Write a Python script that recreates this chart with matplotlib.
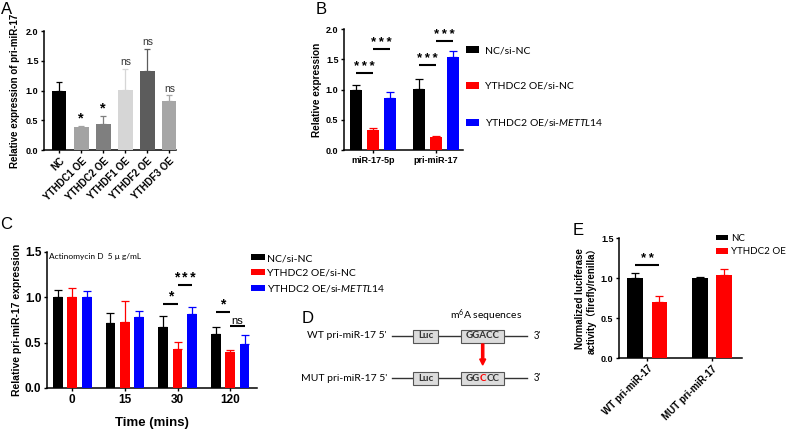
import matplotlib
matplotlib.use('Agg')
import matplotlib.pyplot as plt
import numpy as np
from matplotlib.patches import Rectangle, FancyArrow
from matplotlib.offsetbox import TextArea, HPacker, AnnotationBbox

plt.rcParams['font.family'] = ['Liberation Sans', 'Noto Sans CJK SC']
plt.rcParams['mathtext.fontset'] = 'custom'
plt.rcParams['mathtext.rm'] = 'Lato'
plt.rcParams['mathtext.it'] = 'Lato:italic'
plt.rcParams['axes.linewidth'] = 1.1
plt.rcParams['xtick.major.width'] = 1.0
plt.rcParams['ytick.major.width'] = 1.0
plt.rcParams['xtick.major.size'] = 2.5
plt.rcParams['ytick.major.size'] = 2.5
plt.rcParams['xtick.major.pad'] = 1.5
plt.rcParams['ytick.major.pad'] = 1.5

# ---- panel A
a_labels = ['NC', 'YTHDC1 OE', 'YTHDC2 OE', 'YTHDF1 OE', 'YTHDF2 OE', 'YTHDF3 OE']
a_vals = [1.00, 0.38, 0.44, 1.01, 1.33, 0.83]
a_err = [0.14, 0.02, 0.13, 0.36, 0.37, 0.09]
a_sig = ['', '*', '*', 'ns', 'ns', 'ns']
a_colors = ['#000000', '#a3a3a3', '#7f7f7f', '#d6d6d6', '#5c5c5c', '#a6a6a6']

# ---- panel B
b_groups = ['miR-17-5p', 'pri-miR-17']
b_series = ['NC/si-NC', 'YTHDC2 OE/si-NC', 'YTHDC2 OE/si-$\\it{METTL14}$']
b_nc = [1.00, 1.01]
b_nc_err = [0.07, 0.17]
b_oe = [0.33, 0.22]
b_oe_err = [0.03, 0.02]
b_si = [0.86, 1.54]
b_si_err = [0.10, 0.10]
# (group, from series, to series, height, label)
b_sig = [(0, 0, 1, 1.28, '***'), (0, 1, 2, 1.67, '***'),
         (1, 0, 1, 1.41, '***'), (1, 1, 2, 1.81, '***')]

# ---- panel C
c_times = ['0', '15', '30', '120']
c_nc = [1.00, 0.72, 0.67, 0.60]
c_nc_err = [0.08, 0.11, 0.12, 0.07]
c_oe = [1.00, 0.73, 0.43, 0.40]
c_oe_err = [0.10, 0.23, 0.08, 0.02]
c_si = [1.00, 0.78, 0.82, 0.48]
c_si_err = [0.07, 0.07, 0.07, 0.11]
c_sig = [(2, 0, 1, 0.93, '*'), (2, 1, 2, 1.14, '***'),
         (3, 0, 1, 0.84, '*'), (3, 1, 2, 0.68, 'ns')]

# ---- panel D (schematic)
d_rows = ["WT pri-miR-17 5'", "MUT pri-miR-17 5'"]
d_seq_wt = 'GGACC'
d_seq_mut = ('GG', 'C', 'CC')

# ---- panel E
e_groups = ['WT pri-miR-17', 'MUT pri-miR-17']
e_series = ['NC', 'YTHDC2 OE']
e_nc = [1.00, 1.00]
e_nc_err = [0.06, 0.02]
e_oe = [0.70, 1.04]
e_oe_err = [0.08, 0.07]
e_sig = [(0, 0, 1, 1.17, '**')]

W, H = 788, 430
fig = plt.figure(figsize=(W / 100, H / 100), dpi=100)


def px_axes(l, t, r, b):
    return fig.add_axes([l / W, 1 - b / H, (r - l) / W, (b - t) / H])


def prism(ax, fs):
    for s in ['top', 'right']:
        ax.spines[s].set_visible(False)
    ax.tick_params(labelsize=fs)
    for lab in ax.get_yticklabels() + ax.get_xticklabels():
        lab.set_fontweight('bold')


def bars(ax, x, vals, errs, colors, width, cap):
    bc = ax.bar(x, vals, width, color=colors, zorder=3)
    for xi, v, e, c in zip(x, vals, errs, colors):
        ax.errorbar(xi, v, yerr=[[0], [e]], fmt='none', ecolor=c,
                    elinewidth=0.9, capsize=cap, capthick=0.9, zorder=2)
    return bc


def sig_lines(ax, sigs, offsets, fs, star_fs):
    for g, i0, i1, h, lab in sigs:
        ax.plot([g + offsets[i0], g + offsets[i1]], [h, h], color='black', lw=1.5,
                solid_capstyle='butt', zorder=4)
        xm = g + (offsets[i0] + offsets[i1]) / 2
        if lab == 'ns':
            ax.text(xm, h, lab, ha='center', va='bottom', fontsize=fs)
        else:
            ax.text(xm, h, '\u2009'.join(lab), ha='center', va='bottom',
                    fontsize=star_fs, fontweight='bold')


# ================= A
axA = px_axes(44, 31.3, 176, 150)
xa = np.arange(len(a_labels))
bars(axA, xa, a_vals, a_err, a_colors, 0.66, 2.4)
for xi, v, e, s, c in zip(xa, a_vals, a_err, a_sig, a_colors):
    if s == '*':
        axA.text(xi, v + e + 0.02, s, ha='center', va='bottom', fontsize=10.5, fontweight='bold')
    elif s:
        axA.text(xi, v + e + 0.03, s, ha='center', va='bottom', fontsize=7.5, color='#333333')
axA.set_xlim(-0.69, 5.3)
axA.set_ylim(0, 2.0)
axA.set_yticks(np.arange(0, 2.01, 0.5))
axA.set_yticklabels(['%.1f' % v for v in np.arange(0, 2.01, 0.5)])
axA.set_xticks(xa)
axA.set_xticklabels(a_labels, rotation=45, ha='right', rotation_mode='anchor')
prism(axA, 6.5)
for lab in axA.get_xticklabels():
    lab.set_fontsize(7)
axA.set_ylabel('Relative expression of pri-miR-17', fontsize=7, fontweight='bold', labelpad=4)

# ================= B
axB = px_axes(344, 29.3, 463, 150)
xb = np.arange(len(b_groups))
offB = [-0.27, 0, 0.27]
hb = []
for k, (v, e, c) in enumerate([(b_nc, b_nc_err, 'black'), (b_oe, b_oe_err, '#ff0000'),
                                (b_si, b_si_err, '#0000ff')]):
    hb.append(bars(axB, xb + offB[k], v, e, [c] * len(v), 0.18, 3.2))
sig_lines(axB, b_sig, offB, 7.5, 9.5)
axB.set_xlim(-0.46, 1.43)
axB.set_ylim(0, 2.0)
axB.set_yticks(np.arange(0, 2.01, 0.5))
axB.set_yticklabels(['%.1f' % v for v in np.arange(0, 2.01, 0.5)])
axB.set_xticks(xb)
axB.set_xticklabels(b_groups)
prism(axB, 6.5)
axB.set_ylabel('Relative expression', fontsize=7.2, fontweight='bold', labelpad=3)
fig.legend(hb, b_series, loc='upper left', bbox_to_anchor=(466 / W, 1 - 46 / H),
           frameon=False, prop={'family': 'Lato', 'size': 7.5}, borderpad=0,
           borderaxespad=0, handlelength=1.2, handleheight=0.65, handletextpad=0.6,
           labelspacing=2.55)

# ================= C
axC = px_axes(47, 252, 257, 388)
xc = np.arange(len(c_times))
offC = [-0.274, 0, 0.274]
hc = []
for k, (v, e, c) in enumerate([(c_nc, c_nc_err, 'black'), (c_oe, c_oe_err, '#ff0000'),
                                (c_si, c_si_err, '#0000ff')]):
    hc.append(bars(axC, xc + offC[k], v, e, [c] * len(v), 0.185, 2.6))
sig_lines(axC, c_sig, offC, 8, 10)
axC.set_xlim(-0.48, 3.51)
axC.set_ylim(0, 1.5)
axC.set_yticks([0, 0.5, 1.0, 1.5])
axC.set_yticklabels(['0.0', '0.5', '1.0', '1.5'])
axC.set_xticks(xc)
axC.set_xticklabels(c_times)
prism(axC, 8.5)
axC.set_xlabel('Time (mins)', fontsize=9.5, fontweight='bold', labelpad=8)
axC.set_ylabel('Relative pri-miR-17 expression', fontsize=7.5, fontweight='bold', labelpad=2)
axC.text(0.01, 0.97, 'Actinomycin D  5 \u03bc g/mL', transform=axC.transAxes,
         fontsize=6, family='Lato', va='center', ha='left')
fig.legend(hc, b_series, loc='upper left', bbox_to_anchor=(251 / W, 1 - 254 / H),
           frameon=False, prop={'family': 'Lato', 'size': 7.5}, borderpad=0,
           borderaxespad=0, handlelength=1.3, handleheight=0.55, handletextpad=0.2,
           labelspacing=0.55)

# ================= D
axD = px_axes(300, 300, 560, 400)
axD.set_xlim(300, 560)
axD.set_ylim(400, 300)
axD.axis('off')
row_y = [336, 378.3]
for y, lab in zip(row_y, d_rows):
    axD.text(387, y, lab, ha='right', va='center', fontsize=7.5, family='Lato')
    axD.plot([392, 527], [y, y], color='#333333', lw=1.0, zorder=1)
    axD.add_patch(Rectangle((413, y - 6.5), 25, 13, facecolor='#dcdcdc',
                            edgecolor='#555555', lw=0.8, zorder=2))
    axD.text(425.5, y, 'Luc', ha='center', va='center', fontsize=7, family='Lato',
             fontweight='bold', color='#333333', zorder=3)
    axD.add_patch(Rectangle((461, y - 6.5), 43, 13, facecolor='#dcdcdc',
                            edgecolor='#555555', lw=0.8, zorder=2))
    axD.text(534, y, "3'", ha='left', va='center', fontsize=7, family='Liberation Sans')
axD.text(482.5, row_y[0], d_seq_wt, ha='center', va='center', fontsize=7,
         family='Lato', fontweight='bold', color='#333333', zorder=3)
parts = [TextArea(p, textprops=dict(fontsize=7, family='Lato', fontweight='bold',
                                     color=('#ff0000' if i == 1 else '#333333')))
         for i, p in enumerate(d_seq_mut)]
pack = HPacker(children=parts, align='center', pad=0, sep=0)
axD.add_artist(AnnotationBbox(pack, (482.5, row_y[1]), frameon=False, pad=0,
                              box_alignment=(0.5, 0.5), zorder=3))
axD.text(486.5, 316, 'm$^6$A sequences', ha='center', va='center', fontsize=7.5,
         family='Lato')
axD.add_patch(FancyArrow(482.7, 344, 0, 21, width=2.2, head_width=6, head_length=6,
                         length_includes_head=True, color='#ff0000', zorder=3))

# ================= E
axE = px_axes(619, 238.3, 742, 358)
xe = np.arange(len(e_groups))
offE = [-0.187, 0.187]
he = []
for k, (v, e, c) in enumerate([(e_nc, e_nc_err, 'black'), (e_oe, e_oe_err, '#ff0000')]):
    he.append(bars(axE, xe + offE[k], v, e, [c] * len(v), 0.244, 3.2))
sig_lines(axE, e_sig, offE, 7.5, 9.5)
axE.set_xlim(-0.44, 1.47)
axE.set_ylim(0, 1.5)
axE.set_yticks([0, 0.5, 1.0, 1.5])
axE.set_yticklabels(['0.0', '0.5', '1.0', '1.5'])
axE.set_xticks(xe)
axE.set_xticklabels(e_groups, rotation=45, ha='right', rotation_mode='anchor')
prism(axE, 6.5)
for lab in axE.get_xticklabels():
    lab.set_fontsize(7)
axE.set_ylabel('Normalized luciferase\nactivity\uff08firefly/renilla\uff09', fontsize=7,
               fontweight='bold', labelpad=3, linespacing=1.1)
fig.legend(he, e_series, loc='upper left', bbox_to_anchor=(716 / W, 1 - 234 / H),
           frameon=False, prop={'family': 'Lato', 'size': 7}, borderpad=0,
           borderaxespad=0, handlelength=1.2, handleheight=0.55, handletextpad=0.35,
           labelspacing=0.45)

# panel letters
for lx, ly, letter in [(1, 2, 'A'), (316, 2, 'B'), (0, 217, 'C'), (302, 311, 'D'), (573, 223, 'E')]:
    fig.text(lx / W, 1 - ly / H, letter, fontsize=12, va='top', ha='left')

fig.savefig('out.png', dpi=100)
